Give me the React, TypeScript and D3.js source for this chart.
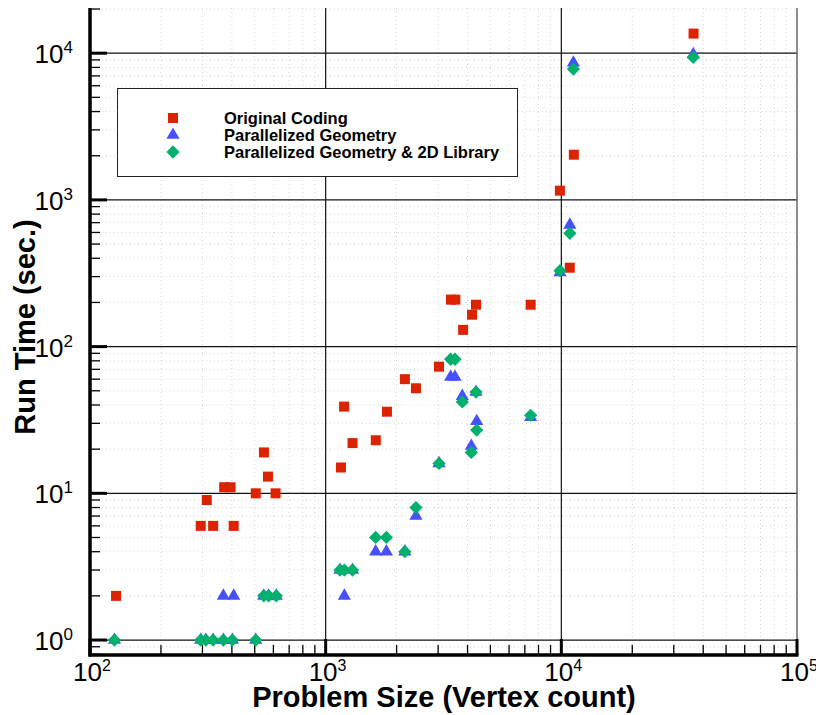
import { useEffect, useRef } from "react";
import { scaleLog, select, symbol, symbolSquare, symbolTriangle } from "d3";

// Original Coding
const origSize = [129, 295, 313, 333, 371, 395, 407, 505, 547, 569, 613, 1161, 1197, 1300, 1632, 1820, 2168, 2416, 3027, 3400, 3550, 3830, 4180, 4345, 7410, 9860, 10860, 11300, 36400];
const origTime = [2, 6, 9, 6, 11, 11, 6, 10, 19, 13, 10, 15, 39, 22, 23, 36, 60, 52, 73, 209, 209, 130, 165, 193, 193, 1156, 345, 2033, 13600];

// Parallelized Geometry
const geomSize = [127, 295, 310, 333, 368, 402, 505, 368, 407, 546, 573, 617, 1150, 1200, 1300, 1630, 1810, 2168, 2416, 3027, 3390, 3540, 3800, 4150, 4375, 4345, 7410, 9870, 10870, 11250, 36300];
const geomTime = [1, 1, 1, 1, 1, 1, 1, 2, 2, 2, 2, 2, 3, 2, 3, 4, 4, 4, 7, 16, 62, 62, 46, 21, 31, 49, 33, 320, 675, 8600, 9820];

// Parallelized Geometry & 2D Library
const libSize = [127, 295, 310, 333, 368, 402, 505, 546, 573, 617, 1150, 1200, 1300, 1630, 1810, 2168, 2416, 3027, 3390, 3540, 3800, 4150, 4345, 4375, 7410, 9870, 10870, 11250, 36300];
const libTime = [1, 1, 1, 1, 1, 1, 1, 2, 2, 2, 3, 3, 3, 5, 5, 4, 8, 16, 82, 82, 42, 19, 49, 27, 34, 329, 592, 7800, 9380];

const seriesNames = ["Original Coding", "Parallelized Geometry", "Parallelized Geometry & 2D Library"];
const seriesColors = ["#dd2200", "#4650ff", "#00b06c"];
const xDecades = [2, 3, 4, 5];
const yDecades = [0, 1, 2, 3, 4];

export default function App() {
    const svgRef = useRef(null);

    useEffect(() => {
        const svg = select(svgRef.current);
        svg.selectAll("*").remove();

        const left = 90, right = 797, top = 8, bottom = 655;
        const xScale = scaleLog().domain([100, 1e5]).range([left, right]);
        const yScale = scaleLog().domain([Math.pow(10, -0.102), Math.pow(10, 4.308)]).range([bottom, top]);

        // minor tick values
        const minor = (decades) => {
            const out = [];
            for (let d = decades[0] - 1; d <= decades[decades.length - 1]; d++)
                for (let k = 2; k <= 9; k++) out.push(k * Math.pow(10, d));
            return out;
        };
        const [y0, y1] = yScale.domain();
        const xMinor = minor(xDecades).filter(v => v > 100 && v < 1e5);
        const yMinor = minor(yDecades).filter(v => v > y0 && v < y1);

        // minor dotted grid
        svg.append("g").selectAll("line").data(xMinor).join("line")
            .attr("x1", d => xScale(d)).attr("x2", d => xScale(d))
            .attr("y1", top).attr("y2", bottom)
            .attr("stroke", "#d4d4d4").attr("stroke-dasharray", "1,3");
        svg.append("g").selectAll("line").data(yMinor).join("line")
            .attr("y1", d => yScale(d)).attr("y2", d => yScale(d))
            .attr("x1", left).attr("x2", right)
            .attr("stroke", "#d4d4d4").attr("stroke-dasharray", "1,3");

        // major grid
        svg.append("g").selectAll("line").data(xDecades.slice(1, -1)).join("line")
            .attr("x1", d => xScale(Math.pow(10, d))).attr("x2", d => xScale(Math.pow(10, d)))
            .attr("y1", top).attr("y2", bottom)
            .attr("stroke", "#111").attr("stroke-width", 1.2);
        svg.append("g").selectAll("line").data(yDecades).join("line")
            .attr("y1", d => yScale(Math.pow(10, d))).attr("y2", d => yScale(Math.pow(10, d)))
            .attr("x1", left).attr("x2", right)
            .attr("stroke", "#111").attr("stroke-width", 1.2);

        // right border
        svg.append("line").attr("x1", right).attr("x2", right).attr("y1", top).attr("y2", bottom)
            .attr("stroke", "#666").attr("stroke-width", 1.5);

        // ticks (inside)
        svg.append("g").selectAll("line").data(yMinor).join("line")
            .attr("x1", left).attr("x2", left + 10)
            .attr("y1", d => yScale(d)).attr("y2", d => yScale(d))
            .attr("stroke", "#000").attr("stroke-width", 1.3);
        svg.append("g").selectAll("line").data(yDecades).join("line")
            .attr("x1", left).attr("x2", left + 17)
            .attr("y1", d => yScale(Math.pow(10, d))).attr("y2", d => yScale(Math.pow(10, d)))
            .attr("stroke", "#000").attr("stroke-width", 3);
        svg.append("g").selectAll("line").data(xMinor).join("line")
            .attr("x1", d => xScale(d)).attr("x2", d => xScale(d))
            .attr("y1", bottom).attr("y2", bottom - 10)
            .attr("stroke", "#000").attr("stroke-width", 1.3);
        svg.append("g").selectAll("line").data(xDecades).join("line")
            .attr("x1", d => xScale(Math.pow(10, d))).attr("x2", d => xScale(Math.pow(10, d)))
            .attr("y1", bottom).attr("y2", bottom - 16)
            .attr("stroke", "#000").attr("stroke-width", 3);

        // axis lines
        svg.append("line").attr("x1", left).attr("x2", left).attr("y1", top).attr("y2", bottom + 1.5)
            .attr("stroke", "#000").attr("stroke-width", 3.5);
        svg.append("line").attr("x1", left - 1.5).attr("x2", right + 1.5).attr("y1", bottom).attr("y2", bottom)
            .attr("stroke", "#000").attr("stroke-width", 3.5);

        // tick labels
        const tickFont = "'Liberation Sans Narrow', 'Liberation Sans', Arial, sans-serif";
        const yl = svg.append("g").selectAll("text").data(yDecades).join("text")
            .attr("x", 73).attr("y", d => yScale(Math.pow(10, d)) + 10)
            .attr("text-anchor", "end")
            .attr("font-family", tickFont).attr("font-size", 26).attr("fill", "#000");
        yl.append("tspan").text("10");
        yl.append("tspan").attr("dy", -10).attr("font-size", 17).text(d => d);

        const xl = svg.append("g").selectAll("text").data(xDecades).join("text")
            .attr("x", d => xScale(Math.pow(10, d)) - 17).attr("y", 681)
            .attr("font-family", tickFont).attr("font-size", 26).attr("fill", "#000");
        xl.append("tspan").text("10");
        xl.append("tspan").attr("dy", -10).attr("font-size", 16).text(d => d);

        // axis titles
        const titleFont = "'Liberation Sans', Arial, Helvetica, sans-serif";
        svg.append("text").attr("x", 444).attr("y", 707).attr("text-anchor", "middle")
            .attr("font-family", titleFont).attr("font-weight", "bold").attr("font-size", 29)
            .text("Problem Size (Vertex count)");
        svg.append("text").attr("transform", "translate(35,327) rotate(-90)").attr("text-anchor", "middle")
            .attr("font-family", titleFont).attr("font-weight", "bold").attr("font-size", 29)
            .text("Run Time (sec.)");

        // markers: square, triangle, diamond (square turned 45 degrees)
        const shapes = [
            symbol().type(symbolSquare).size(100),
            symbol().type(symbolTriangle).size(75),
            symbol().type(symbolSquare).size(88),
        ];
        const rot = [0, 0, 45];
        const series = [
            origSize.map((s, i) => [s, origTime[i]]),
            geomSize.map((s, i) => [s, geomTime[i]]),
            libSize.map((s, i) => [s, libTime[i]]),
        ];
        series.forEach((pts, si) => {
            svg.append("g").selectAll("path").data(pts).join("path")
                .attr("d", shapes[si])
                .attr("transform", d => `translate(${xScale(d[0])},${yScale(d[1])}) rotate(${rot[si]})`)
                .attr("fill", seriesColors[si]);
        });

        // legend
        const lg = svg.append("g");
        lg.append("rect").attr("x", 117.5).attr("y", 88.5).attr("width", 400).attr("height", 88)
            .attr("fill", "#fff").attr("stroke", "#222").attr("stroke-width", 1);
        seriesNames.forEach((name, i) => {
            lg.append("path").attr("d", shapes[i])
                .attr("transform", `translate(173,${118 + i * 17}) rotate(${rot[i]})`)
                .attr("fill", seriesColors[i]);
            lg.append("text").attr("x", 224).attr("y", 123.5 + i * 17)
                .attr("font-family", titleFont).attr("font-weight", "bold").attr("font-size", 16.5)
                .text(name);
        });
    }, []);

    return (
        <div style={{ position: "absolute", left: 0, top: 0 }}>
            <svg ref={svgRef} width={816} height={715} style={{ display: "block", background: "#fff" }}></svg>
        </div>
    );
}
